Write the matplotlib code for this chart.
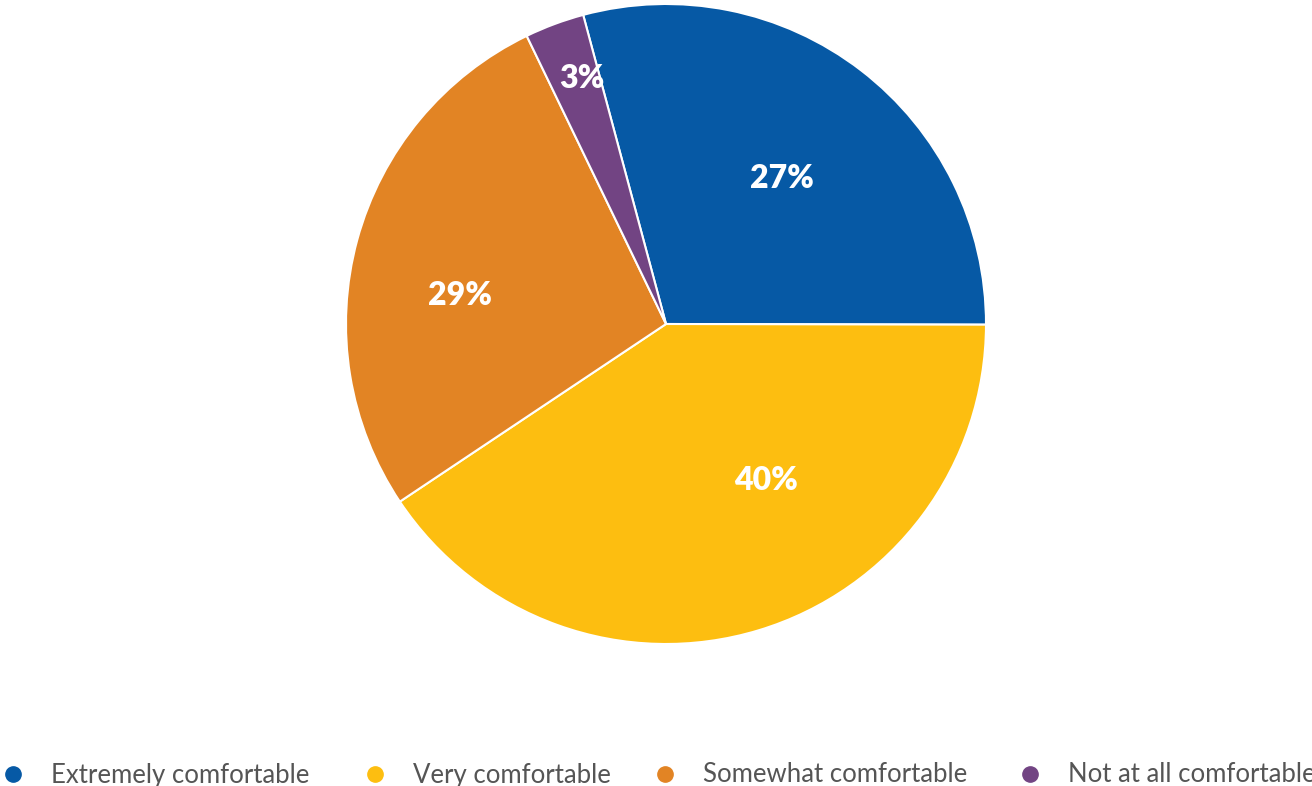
import numpy as np
import matplotlib.pyplot as plt
from matplotlib.lines import Line2D

categories = ['Extremely comfortable', 'Very comfortable', 'Somewhat comfortable', 'Not at all comfortable']
# wedge sizes; labels as printed on the chart
shares = [29.2, 40.6, 27.2, 3.0]
pct_labels = ['27%', '40%', '29%', '3%']
colors = ['#0659A5', '#FDBE10', '#E28424', '#724483']
# label placement (angle in degrees, radius as fraction of pie radius)
label_angle = [51.5, -57.3, 172.0, 109.0]
label_radius = [0.58, 0.58, 0.65, 0.81]

fig = plt.figure(figsize=(13.12, 7.86), dpi=100)
ax = fig.add_axes([346 / 1312, (786 - 644) / 786, 640 / 1312, 640 / 786])

ax.pie(shares, colors=colors, startangle=105, counterclock=False, radius=1,
       wedgeprops=dict(edgecolor='white', linewidth=1.5))
ax.set_xlim(-1, 1)
ax.set_ylim(-1, 1)
ax.set_aspect('equal')
ax.axis('off')

for txt, a, r in zip(pct_labels, label_angle, label_radius):
    t = np.deg2rad(a)
    ax.text(r * np.cos(t), r * np.sin(t), txt, color='white', fontsize=23,
            fontweight='heavy', family='Lato', ha='center', va='center')

# legend entries placed one by one so each matches the reference spacing
legend_x = [0.0, 362 / 1312, 652 / 1312, 1017 / 1312]
for name, c, x in zip(categories, colors, legend_x):
    h = Line2D([], [], marker='o', linestyle='', markersize=11, color=c)
    fig.legend([h], [name], loc='center left', bbox_to_anchor=(x, 11 / 786),
               frameon=False, prop=dict(family='Lato', size=18.5),
               labelcolor='#555555', handletextpad=1.0, handlelength=1.0,
               borderpad=0, borderaxespad=0)

fig.savefig('out.png', dpi=100)
